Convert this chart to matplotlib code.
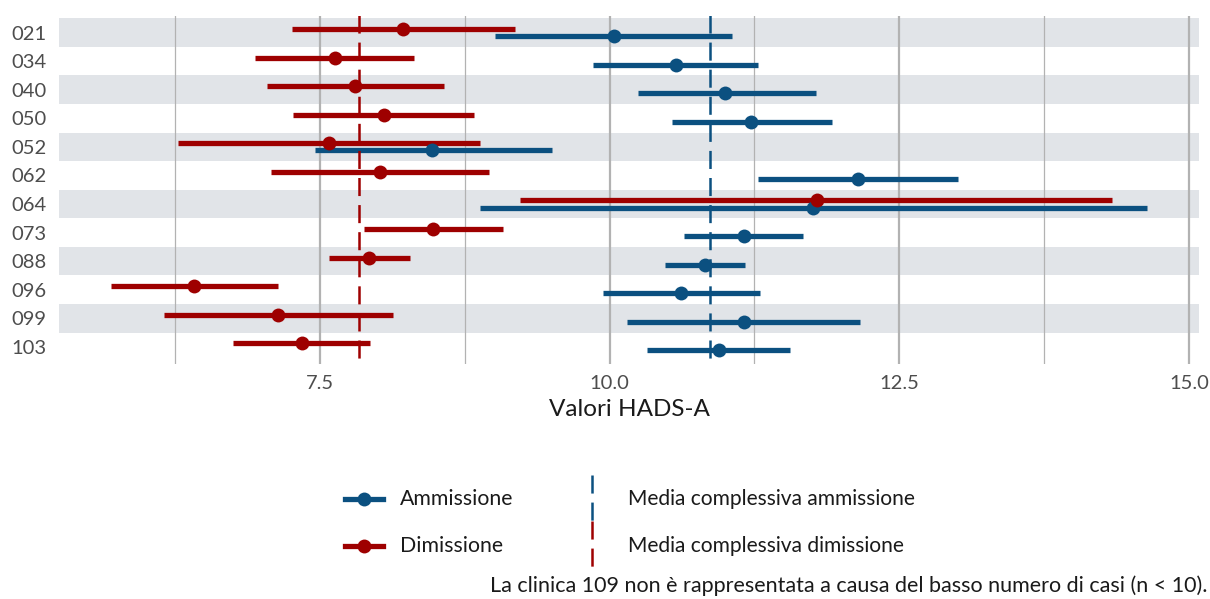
import matplotlib
matplotlib.use("Agg")
import matplotlib.pyplot as plt
from matplotlib.lines import Line2D
import numpy as np

plt.rcParams['font.family'] = ['Lato', 'DejaVu Sans']
plt.rcParams['lines.scale_dashes'] = False

# ---- data ----
clinics = ["021", "034", "040", "050", "052", "062", "064", "073", "088", "096", "099", "103"]
adm_mean = [10.04, 10.57, 11.00, 11.225, 8.47, 12.14, 11.76, 11.16, 10.825, 10.62, 11.16, 10.946]
adm_lo = [9.015, 9.858, 10.245, 10.54, 7.454, 11.28, 8.88, 10.64, 10.475, 9.94, 10.155, 10.325]
adm_hi = [11.057, 11.28, 11.78, 11.92, 9.50, 13.01, 14.64, 11.67, 11.17, 11.30, 12.16, 11.557]
dim_mean = [8.22, 7.627, 7.80, 8.05, 7.58, 8.023, 11.79, 8.473, 7.923, 6.415, 7.142, 7.342]
dim_lo = [7.26, 6.94, 7.04, 7.27, 6.276, 7.08, 9.23, 7.877, 7.577, 5.696, 6.158, 6.75]
dim_hi = [9.18, 8.315, 8.57, 8.83, 8.885, 8.96, 14.34, 9.08, 8.28, 7.142, 8.135, 7.935]
adm_overall = 10.866
dim_overall = 7.84
x_ticks = [7.5, 10.0, 12.5, 15.0]
x_minor = [6.25, 8.75, 11.25, 13.75]
series_labels = ["Ammissione", "Dimissione"]
mean_labels = ["Media complessiva ammissione", "Media complessiva dimissione"]
x_title = "Valori HADS-A"
footnote = "La clinica 109 non è rappresentata a causa del basso numero di casi (n < 10)."

BLUE = "#0b5080"
RED = "#9e0000"
BAND = "#e1e4e8"
GRID = "#b2b2b2"

W, H = 1210, 599
fig = plt.figure(figsize=(W / 100, H / 100), dpi=100)
L, R, T, B = 59, 1199, 15.5, 364
ax = fig.add_axes([L / W, 1 - B / H, (R - L) / W, (B - T) / H])

n = len(clinics)
y = np.arange(n)
off = 0.125

# bands
for i in range(0, n, 2):
    ax.axhspan(i - 0.5, i + 0.5, color=BAND, lw=0, zorder=0)

# grid
for xv in x_ticks:
    ax.axvline(xv, color=GRID, lw=1.6, zorder=1)
for xv in x_minor:
    ax.axvline(xv, color=GRID, lw=0.9, zorder=1)

# ranges + points
ax.hlines(y + off, adm_lo, adm_hi, color=BLUE, lw=3.8, zorder=3)
ax.plot(adm_mean, y + off, 'o', color=BLUE, ms=10, mew=0, zorder=4)
ax.hlines(y - off, dim_lo, dim_hi, color=RED, lw=3.8, zorder=3)
ax.plot(dim_mean, y - off, 'o', color=RED, ms=10, mew=0, zorder=4)

ylo, yhi = n - 1 + 0.6, -0.6
dash = (13, 6.5)
l1, = ax.plot([adm_overall, adm_overall], [yhi, ylo], color=BLUE, lw=1.8, zorder=5)
l1.set_dashes(dash)
l2, = ax.plot([dim_overall, dim_overall], [yhi, ylo], color=RED, lw=1.8, zorder=5)
l2.set_dashes(dash)

allx = np.concatenate([adm_lo, adm_hi, dim_lo, dim_hi])
rng = allx.max() - allx.min()
ax.set_xlim(allx.min() - 0.05 * rng, allx.max() + 0.05 * rng)
ax.set_ylim(ylo, yhi)

ax.set_xticks(x_ticks)
ax.set_xticklabels([f"{v:.1f}" for v in x_ticks])
ax.set_yticks(y)
ax.set_yticklabels(clinics)
ax.tick_params(axis='both', length=0, labelsize=14.5, labelcolor="#4d4d4d")
ax.tick_params(axis='x', pad=8)
ax.tick_params(axis='y', pad=9)
for s in ax.spines.values():
    s.set_visible(False)
ax.set_xlabel(x_title, fontsize=17.5, color="#1a1a1a", labelpad=5)

# legend (manual, figure pixel coordinates)
def fx(px):
    return px / W

def fy(py):
    return 1 - py / H

for lbl, col, yy in [(series_labels[0], BLUE, 499), (series_labels[1], RED, 546)]:
    fig.add_artist(Line2D([fx(345), fx(383)], [fy(yy), fy(yy)], color=col, lw=3.8,
                          transform=fig.transFigure))
    fig.add_artist(Line2D([fx(364)], [fy(yy)], marker='o', color=col, ms=10, mew=0,
                          transform=fig.transFigure))
    fig.text(fx(400), fy(yy), lbl, fontsize=15.3, color="#1a1a1a", va='center', ha='left')

for lbl, col, y0, y1, yy in [(mean_labels[0], BLUE, 475, 521, 499),
                             (mean_labels[1], RED, 521, 567, 546)]:
    ln = Line2D([fx(592), fx(592)], [fy(y0), fy(y1)], color=col, lw=1.8,
                transform=fig.transFigure)
    ln.set_dashes(dash)
    fig.add_artist(ln)
    fig.text(fx(628), fy(yy), lbl, fontsize=15.1, color="#1a1a1a", va='center', ha='left')

fig.text(fx(1207), fy(586), footnote, fontsize=15.5, color="#1a1a1a", va='center', ha='right')

fig.savefig("out.png", dpi=100)
